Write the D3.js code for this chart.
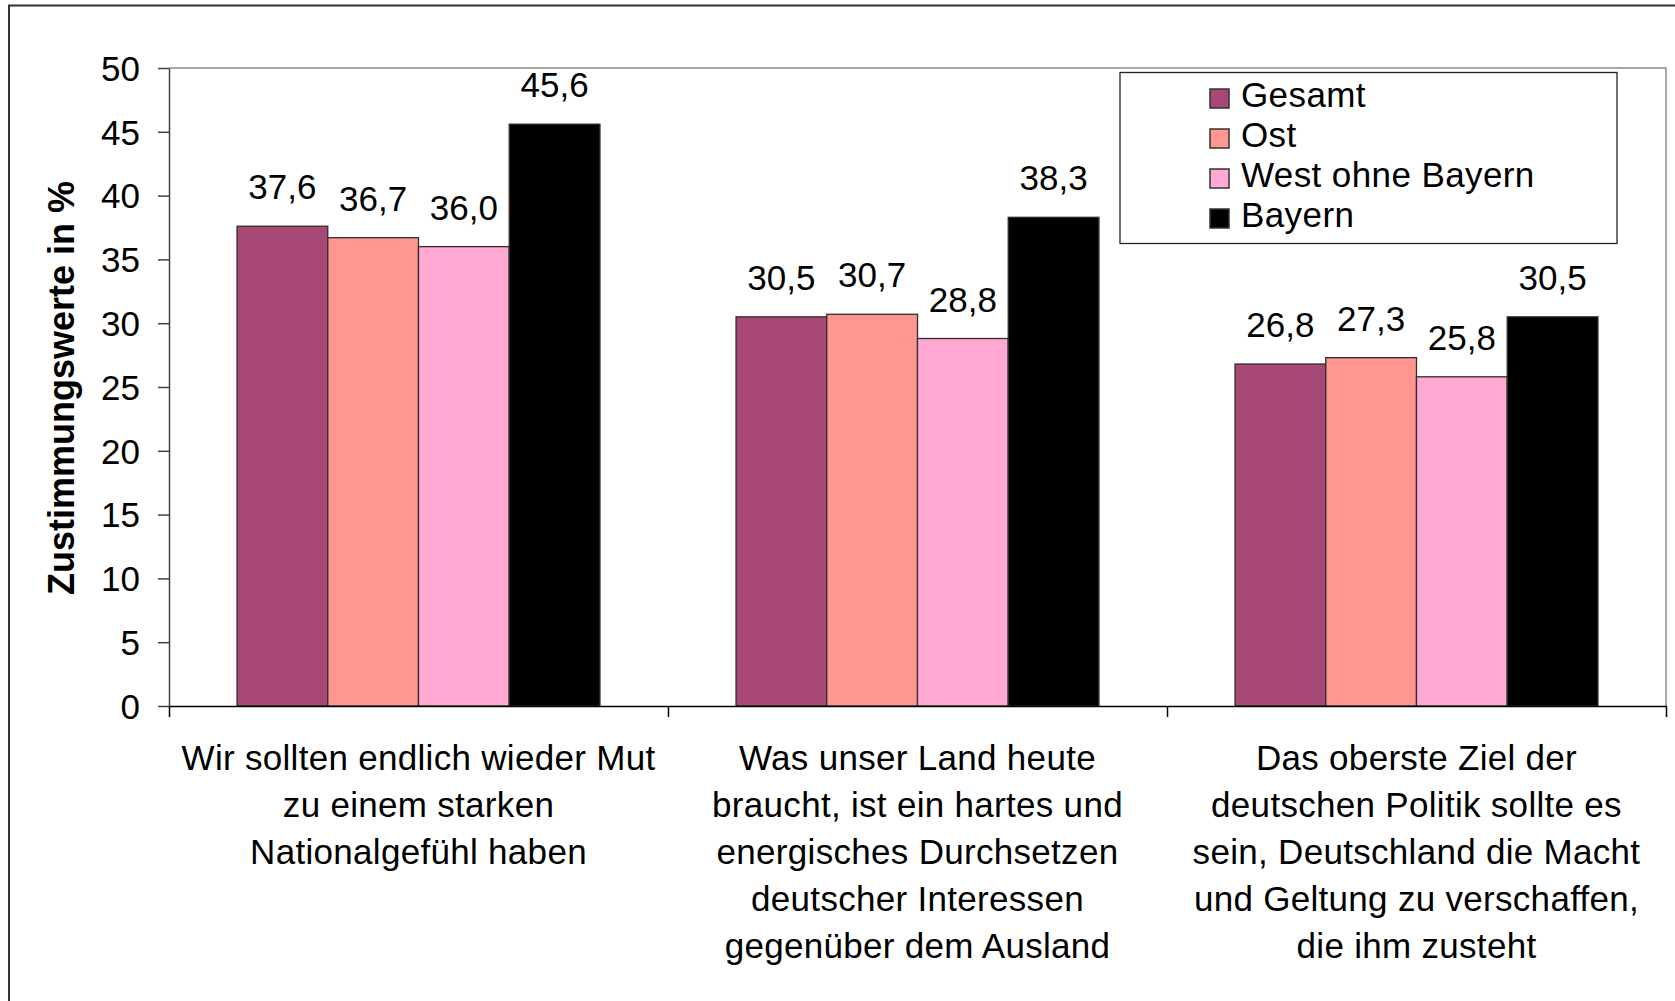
<!DOCTYPE html>
<html>
<head>
<meta charset="utf-8">
<style>

body {
  margin: 0;
  background: #fff;
  width: 1675px;
  height: 1001px;
  overflow: hidden;
}

text {
  font-family: "Liberation Sans", Arial, Helvetica, sans-serif;
  fill: #000;
}

.axis text {
  font-size: 35px;
}

.axis--y path, .axis--y line {
  stroke: #404040;
  stroke-width: 1.5;
}

.axis--x path, .axis--x line {
  stroke: #000;
  stroke-width: 1.5;
}

.value {
  font-size: 35px;
  text-anchor: middle;
}

.catlabel {
  font-size: 35px;
  letter-spacing: 0.3px;
  text-anchor: middle;
}

.legend text {
  font-size: 35px;
  letter-spacing: 0.4px;
}

</style>
</head>

<body>
<svg width="1675" height="1001"></svg>
<script src="https://cdnjs.cloudflare.com/ajax/libs/d3/7.8.5/d3.min.js"></script>
<script>

// data
var categories = ["kat1", "kat2", "kat3"];

var categoryLines = [
  ["Wir sollten endlich wieder Mut", "zu einem starken", "Nationalgefühl haben"],
  ["Was unser Land heute", "braucht, ist ein hartes und", "energisches Durchsetzen", "deutscher Interessen", "gegenüber dem Ausland"],
  ["Das oberste Ziel der", "deutschen Politik sollte es", "sein, Deutschland die Macht", "und Geltung zu verschaffen,", "die ihm zusteht"]
];

var series = ["Gesamt", "Ost", "West ohne Bayern", "Bayern"];

var gesamt = [37.6, 30.5, 26.8],
    ost    = [36.7, 30.7, 27.3],
    west   = [36.0, 28.8, 25.8],
    bayern = [45.6, 38.3, 30.5];

var yTicks = [0, 5, 10, 15, 20, 25, 30, 35, 40, 45, 50];

var colors = ["#a84876", "#ff968f", "#ffa9d4", "#000000"];

var values = [gesamt, ost, west, bayern];

var svg = d3.select("svg"),
    margin = {top: 68, right: 9, bottom: 295, left: 169},
    width = +svg.attr("width") - margin.left - margin.right,
    height = +svg.attr("height") - margin.top - margin.bottom;

var de = d3.formatLocale({decimal: ",", thousands: ".", grouping: [3], currency: ["", " €"]});
var fmt = de.format(".1f");

// outer chart frame (only left and top edges are inside the picture)
svg.append("rect")
    .attr("x", 9)
    .attr("y", 5.5)
    .attr("width", 1700)
    .attr("height", 1100)
    .attr("fill", "none")
    .attr("stroke", "#333")
    .attr("stroke-width", 2);

var x0 = d3.scaleBand()
    .domain(categories)
    .range([0, width])
    .paddingInner(1.5 / 5.5)
    .paddingOuter(0.75 / 5.5);

var x1 = d3.scaleBand()
    .domain(series)
    .range([0, x0.bandwidth()]);

var xEdge = d3.scaleLinear()
    .domain([0, categories.length])
    .range([0, width]);

var y = d3.scaleLinear()
    .domain([0, 50])
    .range([height, 0]);

var g = svg.append("g")
    .attr("transform", "translate(" + margin.left + "," + margin.top + ")");

// plot area frame, grey on top and right
g.append("path")
    .attr("d", "M0,0H" + width + "V" + height)
    .attr("fill", "none")
    .attr("stroke", "#8c8c8c")
    .attr("stroke-width", 1.5);

var groups = g.selectAll(".group")
    .data(categories)
  .enter().append("g")
    .attr("class", "group")
    .attr("transform", function(d) { return "translate(" + x0(d) + ",0)"; });

groups.selectAll("rect")
    .data(function(d, i) { return series.map(function(s, j) { return {s: s, v: values[j][i], c: colors[j]}; }); })
  .enter().append("rect")
    .attr("x", function(d) { return x1(d.s); })
    .attr("y", function(d) { return y(d.v); })
    .attr("width", x1.bandwidth())
    .attr("height", function(d) { return height - y(d.v); })
    .attr("fill", function(d) { return d.c; })
    .attr("stroke", "#2e2e2e")
    .attr("stroke-width", 1.3);

groups.selectAll(".value")
    .data(function(d, i) { return series.map(function(s, j) { return {s: s, v: values[j][i]}; }); })
  .enter().append("text")
    .attr("class", "value")
    .attr("x", function(d) { return x1(d.s) + x1.bandwidth() / 2; })
    .attr("y", function(d) { return y(d.v) - 27; })
    .text(function(d) { return fmt(d.v); });

g.append("g")
    .attr("class", "axis axis--y")
    .call(d3.axisLeft(y).tickValues(yTicks).tickSize(11).tickPadding(18).tickSizeOuter(0))
    .selectAll("text")
    .attr("dy", "0.35em");

g.append("g")
    .attr("class", "axis axis--x")
    .attr("transform", "translate(0," + height + ")")
    .call(d3.axisBottom(xEdge).tickValues(d3.range(categories.length + 1)).tickSize(11).tickFormat("").tickSizeOuter(0));

// category labels, several lines each
g.selectAll(".catlabel")
    .data(categories)
  .enter().append("text")
    .attr("class", "catlabel")
    .attr("transform", function(d) { return "translate(" + (x0(d) + x0.bandwidth() / 2) + "," + (height + 64) + ")"; })
    .selectAll("tspan")
    .data(function(d, i) { return categoryLines[i]; })
  .enter().append("tspan")
    .attr("x", 0)
    .attr("y", function(d, i) { return i * 47; })
    .text(function(d) { return d; });

// y axis title
svg.append("text")
    .attr("transform", "translate(74,388) rotate(-90)")
    .attr("text-anchor", "middle")
    .attr("font-size", 36)
    .attr("font-weight", "bold")
    .text("Zustimmungswerte in %");

// legend
var legend = svg.append("g")
    .attr("class", "legend");

legend.append("rect")
    .attr("x", 1120)
    .attr("y", 72.5)
    .attr("width", 497)
    .attr("height", 171)
    .attr("fill", "#fff")
    .attr("stroke", "#222")
    .attr("stroke-width", 1.3);

var items = legend.selectAll(".item")
    .data(series)
  .enter().append("g")
    .attr("class", "item")
    .attr("transform", function(d, i) { return "translate(1210," + (107 + i * 40) + ")"; });

items.append("rect")
    .attr("x", 0)
    .attr("y", -18)
    .attr("width", 19)
    .attr("height", 19)
    .attr("fill", function(d, i) { return colors[i]; })
    .attr("stroke", "#333")
    .attr("stroke-width", 1.5);

items.append("text")
    .attr("x", 31)
    .attr("y", 0)
    .text(function(d) { return d; });

</script>
</body>
</html>
